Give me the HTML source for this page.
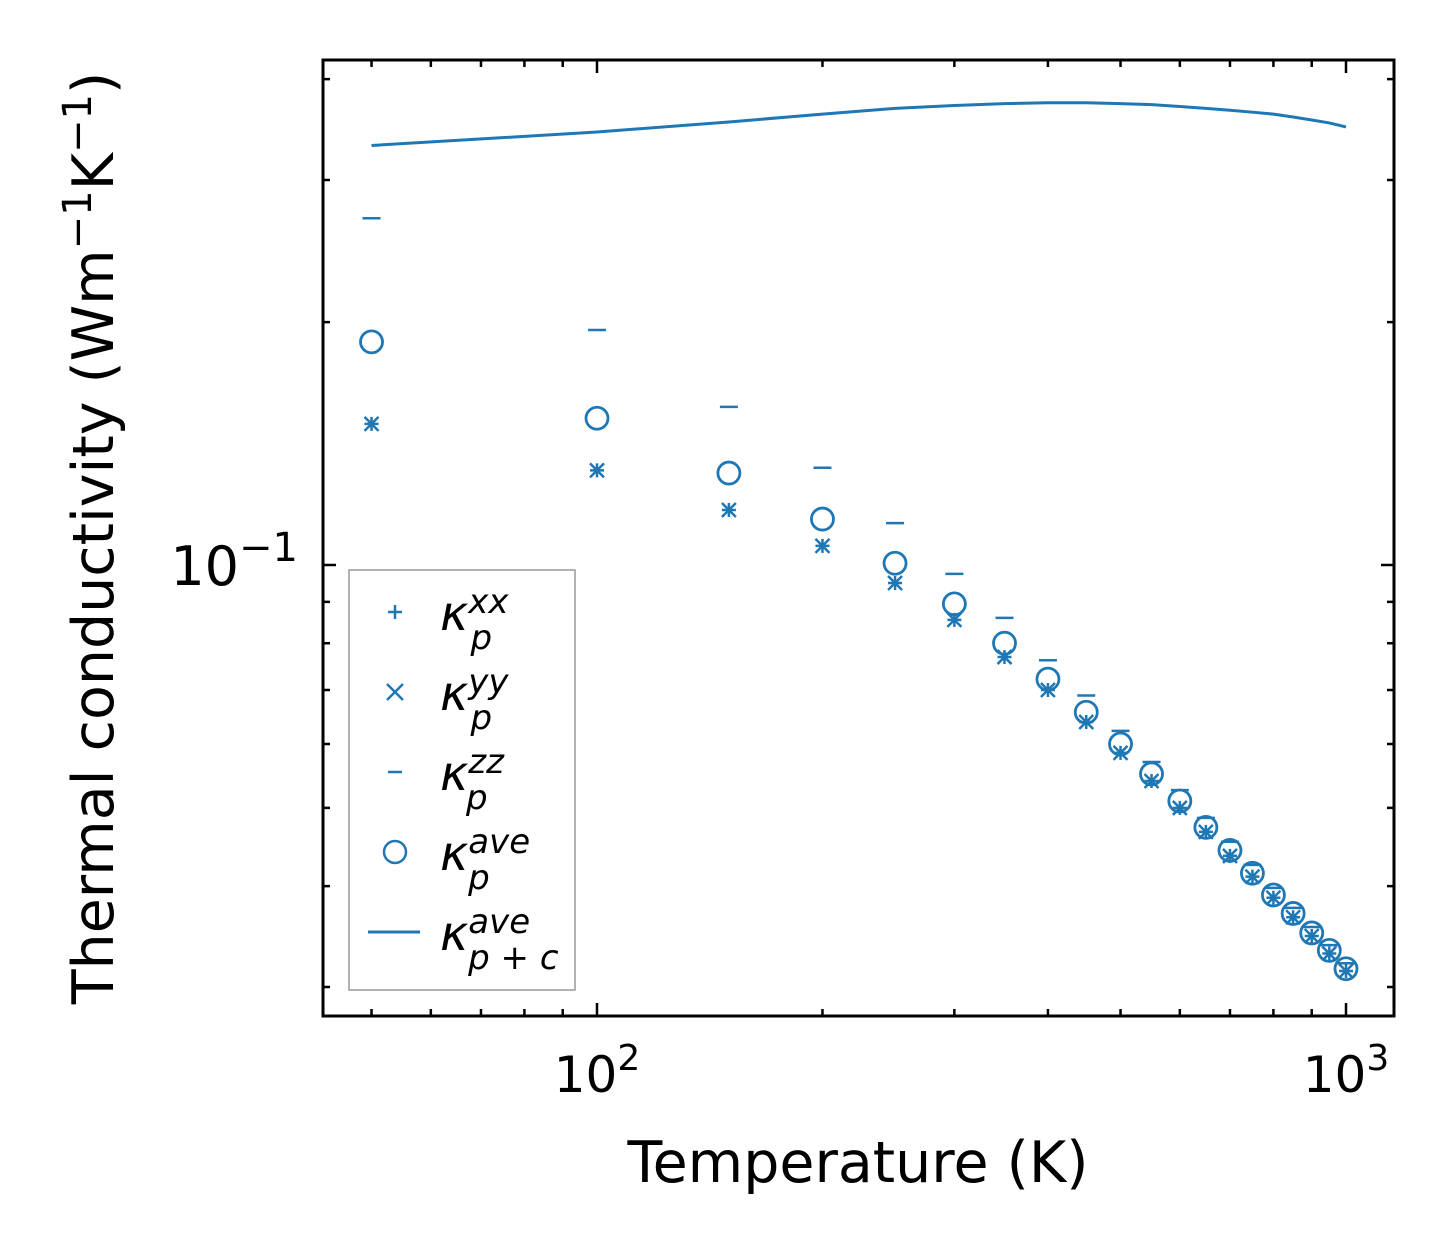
<!DOCTYPE html>
<html><head><meta charset="utf-8"><style>
body{margin:0;background:#fff;}
svg text{font-family:"DejaVu Sans","Liberation Sans",sans-serif;fill:#000;}
</style></head><body>
<svg id="chart" width="1454" height="1254" xmlns="http://www.w3.org/2000/svg">
<g id="marks"></g>
<rect x="323" y="60" width="1071" height="956" fill="none" stroke="#000" stroke-width="3"/>
<g id="ticks"></g>
<text x="597" y="1092" font-size="50" text-anchor="middle">10<tspan dy="-22" font-size="36">2</tspan></text>
<text x="1346" y="1092" font-size="50" text-anchor="middle">10<tspan dy="-22" font-size="36">3</tspan></text>
<text x="298" y="585" font-size="54" text-anchor="end">10<tspan dy="-24" font-size="40">−1</tspan></text>
<text x="858" y="1182" font-size="57" text-anchor="middle">Temperature (K)</text>
<text transform="translate(113,538) rotate(-90)" font-size="57" text-anchor="middle">Thermal conductivity (Wm<tspan dy="-22" font-size="40">−1</tspan><tspan dy="22">K</tspan><tspan dy="-22" font-size="40">−1</tspan><tspan dy="22">)</tspan></text>
<g>
<rect x="349" y="570" width="226" height="420" fill="#fff" stroke="#999" stroke-width="1.5"/>
<g stroke="#1f77b4" stroke-width="2.5" fill="none">
<path d="M388 612H402M395 605V619"/>
<path d="M387 684L403 700M403 684L387 700"/>
<path d="M388 772H402"/>
<circle cx="395" cy="852" r="11"/>
<path d="M368 932H420" stroke-width="3"/>
</g>
<g font-size="48" font-style="italic">
<text x="440" y="630">κ<tspan dy="-17" font-size="34">xx</tspan><tspan dx="-38" dy="36" font-size="34">p</tspan></text>
<text x="440" y="710">κ<tspan dy="-17" font-size="34">yy</tspan><tspan dx="-38" dy="36" font-size="34">p</tspan></text>
<text x="440" y="790">κ<tspan dy="-17" font-size="34">zz</tspan><tspan dx="-38" dy="36" font-size="34">p</tspan></text>
<text x="440" y="870">κ<tspan dy="-17" font-size="34">ave</tspan><tspan dx="-62" dy="36" font-size="34">p</tspan></text>
<text x="440" y="950">κ<tspan dy="-17" font-size="34">ave</tspan><tspan dx="-62" dy="36" font-size="34">p + c</tspan></text>
</g>
</g>
</svg>
<script>
const temps=[50,100,150,200,250,300,350,400,450,500,550,600,650,700,750,800,850,900,950,1000];
const kxx=[0.1496,0.131,0.117,0.1056,0.095,0.0855,0.0769,0.070,0.0639,0.0585,0.054,0.050,0.0467,0.0436,0.0411,0.0387,0.0366,0.0347,0.033,0.0314];
const kyy=[0.1496,0.131,0.117,0.1056,0.095,0.0855,0.0769,0.070,0.0639,0.0585,0.054,0.050,0.0467,0.0436,0.0411,0.0387,0.0366,0.0347,0.033,0.0314];
const kzz=[0.269,0.1955,0.157,0.132,0.1127,0.0975,0.086,0.0762,0.0689,0.0623,0.057,0.0526,0.0486,0.0454,0.0425,0.0398,0.0376,0.0356,0.0338,0.0321];
const kave=[0.189,0.152,0.130,0.114,0.1005,0.0895,0.080,0.0722,0.0657,0.060,0.0551,0.051,0.0473,0.0443,0.0415,0.039,0.037,0.035,0.0333,0.0316];
const kpc=[0.331,0.344,0.354,0.362,0.368,0.371,0.373,0.374,0.374,0.373,0.372,0.370,0.368,0.366,0.364,0.362,0.359,0.356,0.353,0.349];
const xMinor=[50,60,70,80,90,200,300,400,500,600,700,800,900];
const xMajor=[100,1000];
const yMinor=[0.03,0.04,0.05,0.06,0.07,0.08,0.09,0.2,0.3,0.4];
const yMajor=[0.1];
const X=v=>597+749*(Math.log10(v)-2);
const Y=v=>565-807*(Math.log10(v)+1);
const NS="http://www.w3.org/2000/svg";
const marks=document.getElementById('marks'),ticks=document.getElementById('ticks');
function mk(tag,at,parent){const e=document.createElementNS(NS,tag);for(const k in at)e.setAttribute(k,at[k]);parent.appendChild(e);return e;}
const C="#1f77b4";
let d=temps.map((t,i)=>(i?'L':'M')+X(t)+' '+Y(kpc[i])).join('');
let ln=mk('path',{d:d,fill:'none',stroke:C,'stroke-width':3},marks);


temps.forEach((t,i)=>{
 const x=X(t);
 let y=Y(kxx[i]);
 let p=mk('path',{d:`M${x-7} ${y}H${x+7}M${x} ${y-7}V${y+7}`,stroke:C,'stroke-width':2.5,fill:'none'},marks);
 
 
 y=Y(kyy[i]);
 p=mk('path',{d:`M${x-7} ${y-7}L${x+7} ${y+7}M${x+7} ${y-7}L${x-7} ${y+7}`,stroke:C,'stroke-width':2.5,fill:'none'},marks);
 
 
 y=Y(kzz[i]);
 p=mk('path',{d:`M${x-9} ${y}H${x+9}`,stroke:C,'stroke-width':2.5,fill:'none'},marks);
 
 
 y=Y(kave[i]);
 p=mk('circle',{cx:x,cy:y,r:11,stroke:C,'stroke-width':2.8,fill:'none'},marks);
 
 
});
function xt(v,l){const x=X(v);
 let t=mk('path',{d:`M${x} 1016V${1016-l}M${x} 60V${60+l}`,stroke:'#000','stroke-width':2.5},ticks);
 
 }
function yt(v,l){const y=Y(v);
 let t=mk('path',{d:`M323 ${y}H${323+l}M1394 ${y}H${1394-l}`,stroke:'#000','stroke-width':2.5},ticks);
 
 }
xMinor.forEach(v=>xt(v,7));xMajor.forEach(v=>xt(v,13));
yMinor.forEach(v=>yt(v,7));yMajor.forEach(v=>yt(v,13));
</script>
</body></html>
